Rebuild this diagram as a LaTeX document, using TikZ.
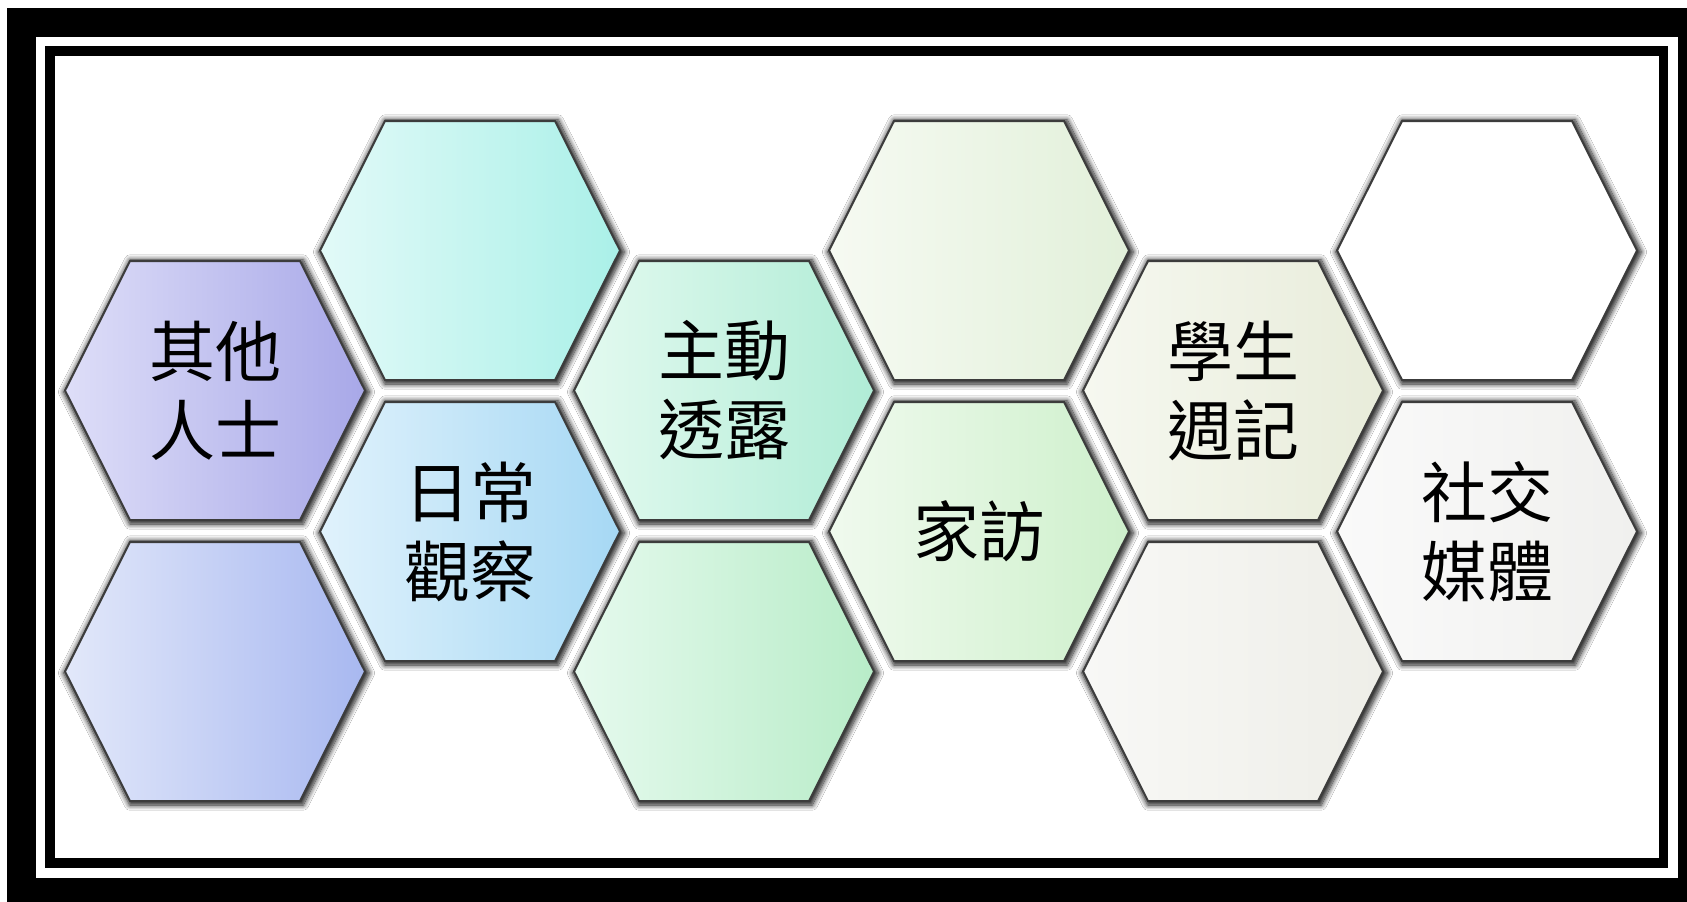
\documentclass[tikz,border=0pt]{standalone}
\usepackage{fontspec}
\newfontfamily\cjk{Noto Sans CJK TC}
\usetikzlibrary{shadows.blur}
\definecolor{hexline}{HTML}{3C3C3C}
\definecolor{aL}{RGB}{222,222,248}\definecolor{aR}{RGB}{168,168,232}
\definecolor{bL}{RGB}{226,232,250}\definecolor{bR}{RGB}{168,184,240}
\definecolor{cL}{RGB}{226,250,248}\definecolor{cR}{RGB}{170,240,232}
\definecolor{dL}{RGB}{224,242,252}\definecolor{dR}{RGB}{166,216,244}
\definecolor{eL}{RGB}{228,250,240}\definecolor{eR}{RGB}{176,236,214}
\definecolor{fL}{RGB}{230,250,238}\definecolor{fR}{RGB}{184,236,200}
\definecolor{gL}{RGB}{246,250,242}\definecolor{gR}{RGB}{226,240,218}
\definecolor{hL}{RGB}{240,250,238}\definecolor{hR}{RGB}{206,240,204}
\definecolor{iL}{RGB}{246,248,240}\definecolor{iR}{RGB}{232,236,218}
\definecolor{jL}{RGB}{248,248,246}\definecolor{jR}{RGB}{238,238,232}
\definecolor{kL}{RGB}{255,255,255}\definecolor{kR}{RGB}{255,255,255}
\definecolor{lL}{RGB}{250,250,250}\definecolor{lR}{RGB}{240,240,238}
\tikzset{
  hexstyle/.style={draw=hexline, line width=2pt, line join=miter,
    blur shadow={shadow xshift=1.5pt, shadow yshift=-1.5pt, shadow scale=1.02,
      shadow blur radius=5pt, shadow opacity=90, shadow blur steps=10}},
  lbl/.style={align=center, inner sep=0pt, text=black,
    font=\cjk\fontsize{66}{79}\selectfont}
}
\newcommand\hexcell[5]{%
  \draw[hexstyle, left color=#3, right color=#4]
    ({#1-150},{#2}) -- ({#1-85},{#2-129.5}) -- ({#1+85},{#2-129.5}) --
    ({#1+150},{#2}) -- ({#1+85},{#2+129.5}) -- ({#1-85},{#2+129.5}) -- cycle;
  \coordinate (#5) at (#1,#2);}
\begin{document}
\begin{tikzpicture}[x=1pt, y=-1pt]
\useasboundingbox (0,0) rectangle (1687,902);
\fill[white] (0,0) rectangle (1687,902);
% frame
\fill[black] (7,8) rectangle (1687,902);
\fill[white] (36,37) rectangle (1678,878);
\fill[black] (45,46) rectangle (1668,868);
\fill[white] (55,56) rectangle (1659,858);
% hexagons
\hexcell{215}{390.5}{aL}{aR}{h1}
\hexcell{215}{671.5}{bL}{bR}{h2}
\hexcell{470}{250.5}{cL}{cR}{h3}
\hexcell{470}{531.5}{dL}{dR}{h4}
\hexcell{724}{390.5}{eL}{eR}{h5}
\hexcell{724}{671.5}{fL}{fR}{h6}
\hexcell{979}{250.5}{gL}{gR}{h7}
\hexcell{979}{531.5}{hL}{hR}{h8}
\hexcell{1233}{390.5}{iL}{iR}{h9}
\hexcell{1233}{671.5}{jL}{jR}{h10}
\hexcell{1487}{250.5}{kL}{kR}{h11}
\hexcell{1487}{531.5}{lL}{lR}{h12}
% labels
\node[lbl] (t1) at (h1) {其他\\人士};
\node[lbl] (t4) at (h4) {日常\\觀察};
\node[lbl] (t5) at (h5) {主動\\透露};
\node[lbl] (t8) at (h8) {家訪};
\node[lbl] (t9) at (h9) {學生\\週記};
\node[lbl] (t12) at (h12) {社交\\媒體};
\end{tikzpicture}
\end{document}
